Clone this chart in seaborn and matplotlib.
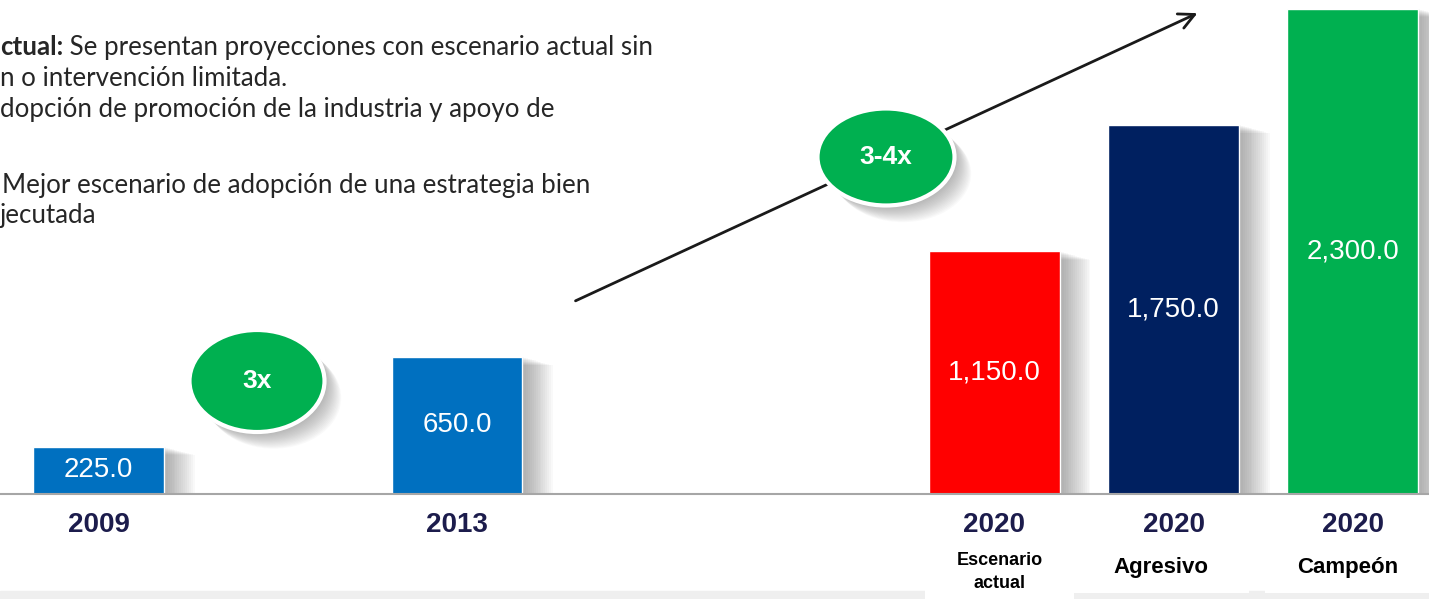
import pandas as pd
import seaborn as sns
import matplotlib.pyplot as plt
import matplotlib.patheffects as pe
import matplotlib.transforms as mtransforms
from matplotlib.patches import Ellipse, Rectangle

# data
years = ["2009", "2013", "2020", "2020", "2020"]
scenarios = ["", "", "Escenario\nactual", "Agresivo", "Campeón"]
values = [225.0, 650.0, 1150.0, 1750.0, 2300.0]
growth_labels = ["3x", "3-4x"]
notes = [
    "n o intervención limitada.",
    "dopción de promoción de la industria y apoyo de",
    "",
    "Mejor escenario de adopción de una estrategia bien",
    "jecutada",
]

bar_colors = ["#0070c0", "#0070c0", "#ff0000", "#002060", "#00b050"]
slots = [0, 2, 5, 6, 7]  # empty slots leave the gaps between periods

keys = [f"{y} {s}".strip() for y, s in zip(years, scenarios)]
df = pd.DataFrame({"key": keys, "value": values})
order = []
for i in range(max(slots) + 1):
    order.append(keys[slots.index(i)] if i in slots else f"_gap{i}")


def soft_shadow(dx, dy, steps=16, alpha=0.035):
    # a stack of faint offset copies, to fake a blurred drop shadow
    fx = [pe.SimplePatchShadow(offset=(dx * k / steps, dy * k / steps),
                               shadow_rgbFace="#555555", alpha=alpha)
          for k in range(steps, 0, -1)]
    return fx + [pe.Normal()]


sns.set_style("white")
plt.rcParams["font.family"] = ["Liberation Sans", "DejaVu Sans"]

fig = plt.figure(figsize=(14.29, 5.99), dpi=100)
fig.patch.set_facecolor("white")
fig.patches.append(Rectangle((0, 0), 1, 8 / 599, transform=fig.transFigure,
                             color="#efefef", zorder=-1))
ax = fig.add_axes([0, 105 / 599, 1, 494 / 599])
ax.set_facecolor("none")

sns.barplot(data=df, x="key", y="value", order=order, hue="key",
            palette=dict(zip(keys, bar_colors)), saturation=1, width=0.73,
            legend=False, ax=ax)

for bar in ax.patches:
    bar.set_path_effects(soft_shadow(22, -6))

for cont in ax.containers:
    ax.bar_label(cont, fmt="{:,.1f}", label_type="center", color="white", fontsize=20)

ax.set_xlim(-0.55, 7.425)
ax.set_ylim(0, 2341)
ax.set_xticks(slots)
ax.set_xticklabels(years, fontsize=20, fontweight="bold", color="#1c1c4c")
ax.tick_params(axis="x", length=0, pad=13)
ax.set_yticks([])
ax.set_xlabel("")
ax.set_ylabel("")
sns.despine(ax=ax, left=True)
ax.spines["bottom"].set_color("#a6a6a6")
ax.spines["bottom"].set_linewidth(1.5)
ax.spines["bottom"].set_zorder(4)

# scenario boxes below the 2020 bars
trans = mtransforms.blended_transform_factory(ax.transData, fig.transFigure)
box_w = [0, 0, 0.83, 0.98, 0.92]
box_dx = [0, 0, 0.03, -0.07, -0.03]
for i, s in enumerate(scenarios):
    if not s:
        continue
    two_lines = "\n" in s
    x0 = slots[i] + box_dx[i] - box_w[i] / 2
    bottom = 0.0 if two_lines else 0.01
    ax.add_patch(Rectangle((x0, bottom), box_w[i], 0.0985 - bottom, transform=trans,
                           facecolor="white", edgecolor="none", clip_on=False, zorder=3))
    ax.text(slots[i] + box_dx[i], 0.045 if two_lines else 0.053, s, transform=trans,
            ha="center", va="center", fontsize=13 if two_lines else 16,
            fontweight="bold", color="black", linespacing=1.45, zorder=4)

# growth arrow and bubbles
ax.annotate("", xy=(1200 / 1429, 1 - 12 / 599), xytext=(573 / 1429, 1 - 302 / 599),
            xycoords="figure fraction",
            arrowprops=dict(arrowstyle="->", lw=2, color="#1a1a1a", mutation_scale=28))
bubbles = [(257, 381, 135, 102), (886, 157, 137, 97)]
for (cx, cy, w, h), lab in zip(bubbles, growth_labels):
    e = Ellipse((cx / 1429, 1 - cy / 599), w / 1429, h / 599, transform=fig.transFigure,
                facecolor="#00b050", edgecolor="white", lw=3, zorder=5)
    e.set_path_effects(soft_shadow(12, -12, alpha=0.03))
    fig.patches.append(e)
    fig.text(cx / 1429, 1 - cy / 599, lab, ha="center", va="center", color="white",
             fontsize=19, fontweight="bold", zorder=6)

# notes box, cut off on the left as in the slide
note_font = dict(fontsize=18.6, family=["Lato", "DejaVu Sans"], color="#262626")
t1 = fig.text(0, 1 - 47 / 599, "ctual:", ha="left", va="center",
              fontweight="bold", **note_font)
ax.annotate(" Se presentan proyecciones con escenario actual sin", xy=(1, 0.5),
            xycoords=t1, va="center", ha="left", **note_font)
for line, y in zip(notes, [78, 110, 147, 185, 216]):
    fig.text(0 if not line.startswith("M") else 2 / 1429, 1 - y / 599, line,
             ha="left", va="center", **note_font)

plt.savefig("out.png", dpi=100)
plt.close()
